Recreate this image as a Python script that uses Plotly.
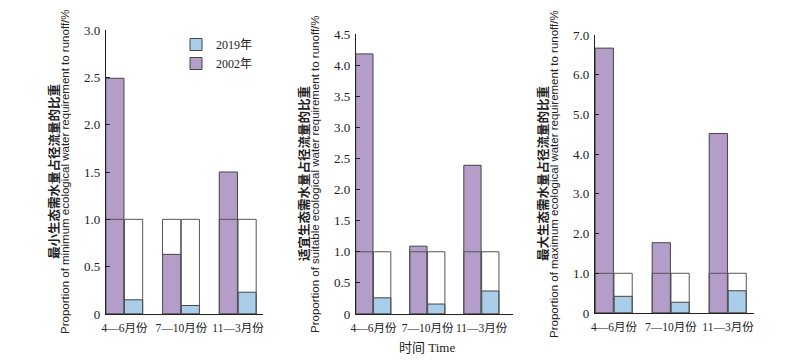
import plotly.graph_objects as go

categories = ["4—6月份", "7—10月份", "11—3月份"]
min_2002 = [2.49, 0.63, 1.50]
min_2019 = [0.15, 0.09, 0.23]
suit_2002 = [4.18, 1.09, 2.39]
suit_2019 = [0.26, 0.16, 0.37]
max_2002 = [6.67, 1.77, 4.52]
max_2019 = [0.42, 0.27, 0.56]
reference_level = [1.0, 1.0, 1.0]

panels = [
    dict(v02=min_2002, v19=min_2019, ymax=3.0, dtick=0.5,
         cn="最小生态需水量占径流量的比重",
         en="Proportion of minimum ecological water requirement to runoff/%"),
    dict(v02=suit_2002, v19=suit_2019, ymax=4.5, dtick=0.5,
         cn="适宜生态需水量占径流量的比重",
         en="Proportion of suitable ecological water requirement to runoff/%"),
    dict(v02=max_2002, v19=max_2019, ymax=7.0, dtick=1.0,
         cn="最大生态需水量占径流量的比重",
         en="Proportion of maximum ecological water requirement to runoff/%"),
]

W, H = 800, 362
geom = [(106, 263, 30, 314), (356, 513, 34, 314), (595, 754, 35, 313)]
xranges = [[-0.326, 2.44], [-0.324, 2.58], [-0.333, 2.456]]

PURPLE = "#b59dc9"
BLUE = "#aacdea"
SERIF = "Liberation Serif, Noto Sans CJK SC"

fig = go.Figure()
layout = dict(width=W, height=H, margin=dict(l=0, r=0, t=0, b=0, autoexpand=False),
              plot_bgcolor="white", paper_bgcolor="white",
              barmode="overlay", showlegend=True,
              font=dict(family=SERIF, size=12, color="#222"))
annotations = []
xs = [0, 1, 2]
for i, p in enumerate(panels):
    n = "" if i == 0 else str(i + 1)
    xa, ya = "x" + n, "y" + n
    l, r, t, b = geom[i]
    fig.add_trace(go.Bar(x=xs, y=p["v02"], xaxis=xa, yaxis=ya, offset=-0.33, width=0.32,
                         marker=dict(color=PURPLE, line=dict(color="#444", width=1)),
                         name="2002年", legendrank=2, showlegend=(i == 0)))
    fig.add_trace(go.Bar(x=xs, y=p["v19"], xaxis=xa, yaxis=ya, offset=0.0, width=0.32,
                         marker=dict(color=BLUE, line=dict(color="#444", width=1)),
                         name="2019年", legendrank=1, showlegend=(i == 0)))
    for off in (-0.33, 0.0):
        fig.add_trace(go.Bar(x=xs, y=reference_level, xaxis=xa, yaxis=ya, offset=off, width=0.32,
                             marker=dict(color="rgba(0,0,0,0)", line=dict(color="#555", width=1)),
                             showlegend=False, hoverinfo="skip"))
    nt = int(round(p["ymax"] / p["dtick"]))
    tv = [k * p["dtick"] for k in range(nt + 1)]
    tt = ["0"] + [f"{v:.1f}" for v in tv[1:]]
    layout["xaxis" + n] = dict(domain=[l / W, r / W], range=xranges[i], automargin=False,
                               anchor=ya, showline=True, linecolor="#222", linewidth=1.2,
                               tickvals=xs, ticktext=categories, ticks="", showgrid=False,
                               tickangle=0, ticklabelstandoff=3,
                               zeroline=False, tickfont=dict(size=11.5, family=SERIF))
    layout["yaxis" + n] = dict(domain=[1 - b / H, 1 - t / H], range=[0, p["ymax"]],
                               automargin=False,
                               anchor=xa, showline=True, linecolor="#222", linewidth=1.2,
                               tickvals=tv, ticktext=tt, ticks="inside", ticklen=4,
                               tickcolor="#222", showgrid=False, zeroline=False,
                               ticklabelstandoff=2,
                               tickfont=dict(size=13, family=SERIF))
    cy = 1 - (t + b) / 2 / H
    annotations.append(dict(x=(l - 53) / W, y=cy, xref="paper", yref="paper",
                            text="<b>" + p["cn"] + "</b>", textangle=-90, showarrow=False,
                            font=dict(size=12.5, family="Noto Sans CJK SC", color="#222"),
                            xanchor="center", yanchor="middle"))
    annotations.append(dict(x=(l - 41) / W, y=cy, xref="paper", yref="paper",
                            text=p["en"], textangle=-90, showarrow=False,
                            font=dict(size=11.5, family="Liberation Sans", color="#222"),
                            xanchor="center", yanchor="middle"))

annotations.append(dict(x=427 / W, y=1 - 347 / H, xref="paper", yref="paper",
                        text="时间 Time", showarrow=False,
                        font=dict(size=13, family=SERIF, color="#222"),
                        xanchor="center", yanchor="middle"))
layout["annotations"] = annotations
layout["legend"] = dict(x=176 / W, y=1 - 30 / H, xanchor="left", yanchor="top",
                        bgcolor="rgba(0,0,0,0)", font=dict(size=12, family=SERIF),
                        itemwidth=30, tracegroupgap=0)
fig.update_layout(**layout)
fig.write_html("out.html", config={"displayModeBar": False},
               post_script="document.body.style.margin='0';")
